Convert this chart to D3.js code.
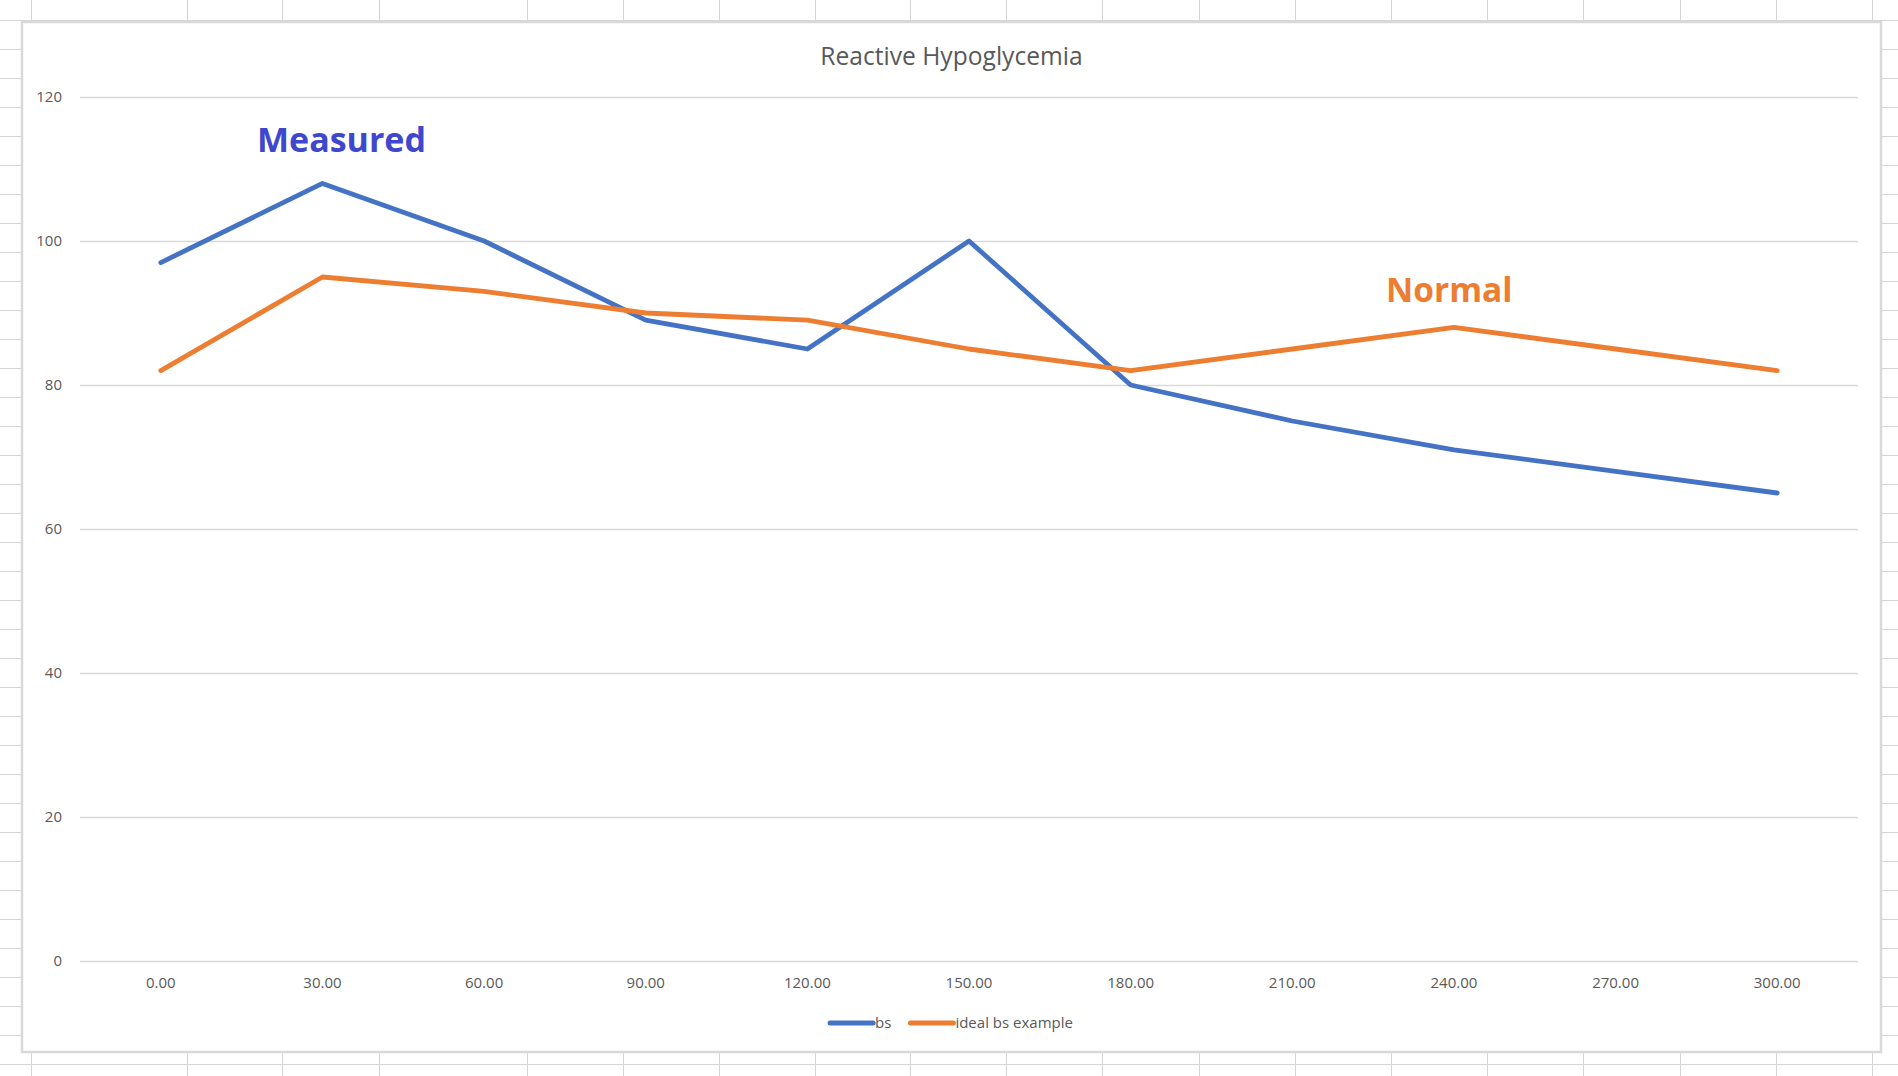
<!DOCTYPE html>
<html>
<head>
<meta charset="utf-8">
<script src="https://cdn.jsdelivr.net/npm/d3@7"></script>
<style>
  html, body { margin: 0; padding: 0; background: #ffffff; }
  svg { display: block; }
</style>
</head>
<body>
<svg id="chart" width="1898" height="1076"></svg>
<script>
// ---- data ----
const categories = ["0.00", "30.00", "60.00", "90.00", "120.00", "150.00", "180.00", "210.00", "240.00", "270.00", "300.00"];
const bsValues = [97, 108, 100, 89, 85, 100, 80, 75, 71, 68, 65];
const idealValues = [82, 95, 93, 90, 89, 85, 82, 85, 88, 85, 82];
const seriesNames = ["bs", "ideal bs example"];
const yTicks = [0, 20, 40, 60, 80, 100, 120];
const chartTitle = "Reactive Hypoglycemia";
const annotations = [
  { text: "Measured", series: 0 },
  { text: "Normal", series: 1 }
];

// ---- layout ----
const W = 1898, H = 1076;
const frame = { x: 22, y: 22, x2: 1881, y2: 1052 };
const plot = { left: 80, right: 1858, top: 97, bottom: 961 };
const colors = ["#4472C4", "#ED7D31"];
const annColors = ["#3F48CC", "#ED7D31"];
const font = "'Open Sans', 'Noto Sans', sans-serif";

const svg = d3.select("#chart");

// spreadsheet grid background
const colLines = [31, 186.5, 282, 379, 526.5, 622.5, 718.6, 814.5, 910.4, 1006.3, 1102, 1198.6, 1294.7, 1390.6, 1487, 1583, 1679.6, 1776, 1872];
const rowLines = d3.range(20, H, 29);
const bg = svg.append("g");
bg.selectAll("line.col").data(colLines).join("line")
  .attr("x1", d => Math.round(d) + 0.5).attr("x2", d => Math.round(d) + 0.5)
  .attr("y1", 0).attr("y2", H)
  .attr("stroke", "#d4d4d4").attr("stroke-width", 1);
bg.selectAll("line.row").data(rowLines).join("line")
  .attr("x1", 0).attr("x2", W)
  .attr("y1", d => d + 0.5).attr("y2", d => d + 0.5)
  .attr("stroke", "#d4d4d4").attr("stroke-width", 1);

// chart frame
svg.append("rect")
  .attr("x", frame.x).attr("y", frame.y)
  .attr("width", frame.x2 - frame.x).attr("height", frame.y2 - frame.y)
  .attr("fill", "#ffffff").attr("stroke", "#d9d9d9").attr("stroke-width", 2.5);

// scales
const x = d3.scaleBand().domain(categories).range([plot.left, plot.right]).padding(0);
const y = d3.scaleLinear().domain([0, 120]).range([plot.bottom, plot.top]);
const cx = d => x(d) + x.bandwidth() / 2;

// y gridlines + labels via axis
const yAxis = d3.axisLeft(y).tickValues(yTicks).tickSize(-(plot.right - plot.left)).tickPadding(18).tickFormat(d3.format("d"));
const gy = svg.append("g").attr("transform", `translate(${plot.left},0)`).call(yAxis);
gy.select(".domain").remove();
gy.selectAll(".tick line").attr("stroke", "#d9d9d9").attr("stroke-width", 1.6);
gy.selectAll(".tick text").attr("fill", "#595959").attr("font-family", font).attr("font-size", 15).attr("x", -18);

// x labels via axis
const xAxis = d3.axisBottom(x).tickSize(0).tickPadding(16);
const gx = svg.append("g").attr("transform", `translate(0,${plot.bottom})`).call(xAxis);
gx.select(".domain").remove();
gx.selectAll(".tick text").attr("fill", "#595959").attr("font-family", font).attr("font-size", 15);

// lines
const allSeries = [bsValues, idealValues];
const line = d3.line().x((d, i) => cx(categories[i])).y(d => y(d));
svg.append("g").selectAll("path").data(allSeries).join("path")
  .attr("d", d => line(d))
  .attr("fill", "none")
  .attr("stroke", (d, i) => colors[i])
  .attr("stroke-width", 4.8)
  .attr("stroke-linejoin", "round")
  .attr("stroke-linecap", "round");

// title
svg.append("text")
  .attr("x", (frame.x + frame.x2) / 2).attr("y", 65)
  .attr("text-anchor", "middle")
  .attr("font-family", font).attr("font-size", 24.6)
  .attr("fill", "#595959")
  .text(chartTitle);

// annotations (placed near series peaks)
svg.append("text")
  .attr("x", 257).attr("y", 152)
  .attr("font-family", font).attr("font-size", 34).attr("font-weight", "bold")
  .attr("fill", annColors[0]).text(annotations[0].text);
svg.append("text")
  .attr("x", 1386).attr("y", 302)
  .attr("font-family", font).attr("font-size", 33.5).attr("font-weight", "bold")
  .attr("fill", annColors[1]).text(annotations[1].text);

// legend
const legend = svg.append("g");
const symW = 43, gapSym = 2, gapItem = 19, legY = 1023;
const items = legend.selectAll("g").data(seriesNames).join("g");
items.append("line")
  .attr("x1", 0).attr("x2", symW).attr("y1", 0).attr("y2", 0)
  .attr("stroke", (d, i) => colors[i]).attr("stroke-width", 5).attr("stroke-linecap", "round");
items.append("text")
  .attr("x", symW + gapSym).attr("y", 5)
  .attr("font-family", font).attr("font-size", 15).attr("fill", "#595959")
  .text(d => d);
const widths = [];
items.each(function() {
  const tw = d3.select(this).select("text").node().getComputedTextLength();
  widths.push(symW + gapSym + tw);
});
const total = d3.sum(widths) + gapItem * (widths.length - 1);
const startX = (frame.x + frame.x2) / 2 - total / 2;
items.attr("transform", (d, i) => {
  const tx = startX + d3.sum(widths.slice(0, i)) + gapItem * i;
  return `translate(${tx},${legY})`;
});
</script>
</body>
</html>
